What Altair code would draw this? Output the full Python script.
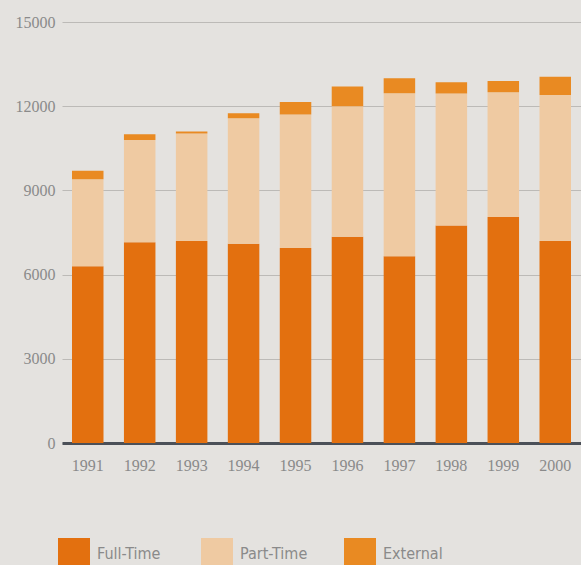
import altair as alt
import pandas as pd

years = ["1991", "1992", "1993", "1994", "1995", "1996", "1997", "1998", "1999", "2000"]
full_time = [6300, 7150, 7200, 7100, 6950, 7350, 6650, 7750, 8050, 7200]
part_time = [3100, 3650, 3830, 4470, 4750, 4650, 5810, 4700, 4450, 5200]
external = [300, 200, 70, 180, 450, 700, 540, 400, 400, 650]

categories = ["Full-Time", "Part-Time", "External"]
colors = ["#e3700f", "#efcaa2", "#e98a22"]

rows = []
for i, y in enumerate(years):
    for k, (cat, vals) in enumerate(zip(categories, [full_time, part_time, external])):
        rows.append({"Year": y, "Type": cat, "Value": vals[i], "Order": k})
df = pd.DataFrame(rows)

label_font = "Liberation Serif"
legend_font = "Liberation Sans Narrow, DejaVu Sans Condensed, sans-serif"

chart = alt.Chart(df).mark_bar().encode(
    x=alt.X("Year:N", sort=years,
            scale=alt.Scale(paddingInner=0.3935, paddingOuter=0.1925),
            axis=alt.Axis(title=None, labelAngle=0, ticks=False, domain=True,
                          domainColor="#4b5058", domainWidth=3,
                          labelFont=label_font, labelFontSize=16,
                          labelColor="#8a8a8a", labelPadding=14, grid=False)),
    y=alt.Y("Value:Q", stack="zero",
            scale=alt.Scale(domain=[0, 15000], nice=False),
            axis=alt.Axis(title=None, values=[0, 3000, 6000, 9000, 12000, 15000],
                          format="d",
                          ticks=False, domain=False, grid=True,
                          gridColor="#bcbab7", gridWidth=1.2,
                          labelFont=label_font, labelFontSize=16,
                          labelColor="#8a8a8a", labelPadding=7)),
    color=alt.Color("Type:N", sort=categories,
                    scale=alt.Scale(domain=categories, range=colors),
                    legend=alt.Legend(title=None, orient="none", legendX=-4, legendY=516,
                                      direction="horizontal", columns=3, gridAlign="all",
                                      symbolType="square", symbolSize=1024,
                                      symbolStrokeWidth=0, labelOffset=7,
                                      columnPadding=36, padding=0,
                                      labelFont=legend_font, labelFontSize=16,
                                      labelColor="#8a8a8a")),
    order=alt.Order("Order:Q", sort="ascending"),
).properties(
    width=519, height=421,
    background="#e4e2df",
    padding={"left": 62, "top": 22, "right": 0, "bottom": 122},
    autosize=alt.AutoSizeParams(type="none"),
).configure_view(stroke=None)

chart.save("out.html", embed_options={"renderer": "svg", "actions": False})
